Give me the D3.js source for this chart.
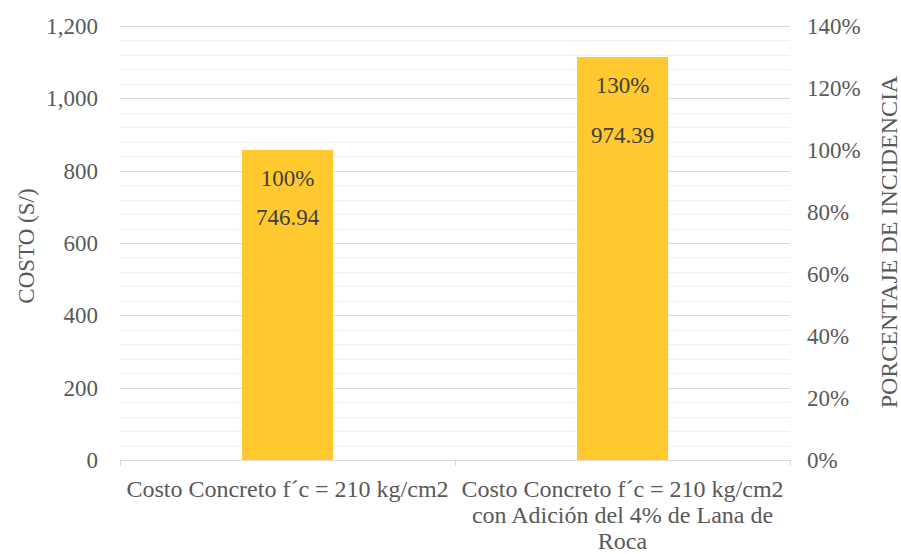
<!DOCTYPE html>
<html>
<head>
<meta charset="utf-8">
<script src="https://cdn.jsdelivr.net/npm/d3@7/dist/d3.min.js"></script>
</head>
<body>
<svg id="chart" width="901" height="554"></svg>
<script>
// Categories (label lines) and series
const categories = ["A", "B"];
const categoryLines = [
  ["Costo Concreto f´c = 210 kg/cm2"],
  ["Costo Concreto f´c = 210 kg/cm2", "con Adición del 4% de Lana de", "Roca"]
];
const costValues = [746.94, 974.39];
const percentValues = [1.00, 1.30];
const costTicks = [0, 200, 400, 600, 800, 1000, 1200];
const percentTicks = [0, 0.2, 0.4, 0.6, 0.8, 1.0, 1.2, 1.4];

d3.select("body").style("margin", "0px").style("background", "#ffffff");
const svg = d3.select("#chart").style("display", "block");
const plotLeft = 120, plotRight = 790, plotTop = 26, plotBottom = 460;
const barColor = "#FFC92F";
const labelColor = "#404040";
const tickColor = "#595959";
const fontName = "Liberation Serif";

const x = d3.scaleBand().domain(categories).range([plotLeft, plotRight]).paddingInner(0).paddingOuter(0);
const yCost = d3.scaleLinear().domain([0, 1200]).range([plotBottom, plotTop]);
const yPct = d3.scaleLinear().domain([0, 1.4]).range([plotBottom, plotTop]);

// minor gridlines every 40
const minor = d3.range(0, 1200.1, 40).filter(v => v % 200 !== 0);
svg.append("g").selectAll("line").data(minor).join("line")
  .attr("x1", plotLeft).attr("x2", plotRight)
  .attr("y1", d => Math.round(yCost(d)) + 0.5).attr("y2", d => Math.round(yCost(d)) + 0.5)
  .attr("stroke", "#efefef").attr("stroke-width", 1);
// major gridlines
svg.append("g").selectAll("line").data(costTicks.filter(v => v > 0)).join("line")
  .attr("x1", plotLeft).attr("x2", plotRight)
  .attr("y1", d => Math.round(yCost(d)) + 0.5).attr("y2", d => Math.round(yCost(d)) + 0.5)
  .attr("stroke", "#d9d9d9").attr("stroke-width", 1);

const barW = 91;
// cost bars (behind)
svg.append("g").selectAll("rect").data(costValues).join("rect")
  .attr("x", (d, i) => x(categories[i]) + x.bandwidth() / 2 - barW / 2)
  .attr("width", barW)
  .attr("y", d => yCost(d))
  .attr("height", d => plotBottom - yCost(d))
  .attr("fill", barColor);
// percentage bars
svg.append("g").selectAll("rect").data(percentValues).join("rect")
  .attr("x", (d, i) => x(categories[i]) + x.bandwidth() / 2 - barW / 2)
  .attr("width", barW)
  .attr("y", d => yPct(d))
  .attr("height", d => plotBottom - yPct(d))
  .attr("fill", barColor);

// every text element shares the serif face
function addText(sel) {
  return sel.style("font-family", fontName);
}

// data labels
const fmtPct = d3.format(".0%");
addText(svg.append("g").selectAll("text").data(percentValues).join("text"))
  .attr("x", (d, i) => x(categories[i]) + x.bandwidth() / 2)
  .attr("y", d => yPct(d) + 36)
  .attr("text-anchor", "middle")
  .attr("font-size", 23).attr("fill", labelColor)
  .text(d => fmtPct(d));
addText(svg.append("g").selectAll("text").data(costValues).join("text"))
  .attr("x", (d, i) => x(categories[i]) + x.bandwidth() / 2)
  .attr("y", d => yCost(d) + 35)
  .attr("text-anchor", "middle")
  .attr("font-size", 23).attr("fill", labelColor)
  .text(d => d3.format(".2f")(d));

// bottom axis line with category boundary ticks
const axisG = svg.append("g");
axisG.append("line").attr("x1", plotLeft).attr("x2", plotRight)
  .attr("y1", plotBottom + 0.5).attr("y2", plotBottom + 0.5)
  .attr("stroke", "#d9d9d9");
const bounds = [plotLeft, x("B"), plotRight];
axisG.selectAll("line.tk").data(bounds).join("line").attr("class", "tk")
  .attr("x1", d => d + 0.5).attr("x2", d => d + 0.5)
  .attr("y1", plotBottom).attr("y2", plotBottom + 6)
  .attr("stroke", "#d9d9d9");

// category labels
categoryLines.forEach((lines, i) => {
  const t = addText(svg.append("text"))
    .attr("text-anchor", "middle")
    .attr("font-size", 24).attr("fill", tickColor);
  lines.forEach((ln, j) => {
    t.append("tspan")
      .attr("x", x(categories[i]) + x.bandwidth() / 2)
      .attr("y", 497 + j * 26)
      .text(ln);
  });
});

// left axis tick labels
const fmtCost = d3.format(",");
addText(svg.append("g").selectAll("text").data(costTicks).join("text"))
  .attr("x", 98).attr("y", d => yCost(d) + 8)
  .attr("text-anchor", "end")
  .attr("font-size", 23).attr("fill", tickColor)
  .text(d => fmtCost(d));

// right axis tick labels
addText(svg.append("g").selectAll("text").data(percentTicks).join("text"))
  .attr("x", 807).attr("y", d => yPct(d) + 8)
  .attr("text-anchor", "start")
  .attr("font-size", 23).attr("fill", tickColor)
  .text(d => fmtPct(d));

// axis titles
addText(svg.append("text"))
  .attr("transform", "translate(34,246) rotate(-90)")
  .attr("text-anchor", "middle")
  .attr("font-size", 23).attr("fill", tickColor)
  .text("COSTO (S/)");
addText(svg.append("text"))
  .attr("transform", "translate(897,242) rotate(-90)")
  .attr("text-anchor", "middle")
  .attr("font-size", 24).attr("fill", tickColor)
  .text("PORCENTAJE DE INCIDENCIA");
</script>
</body>
</html>
